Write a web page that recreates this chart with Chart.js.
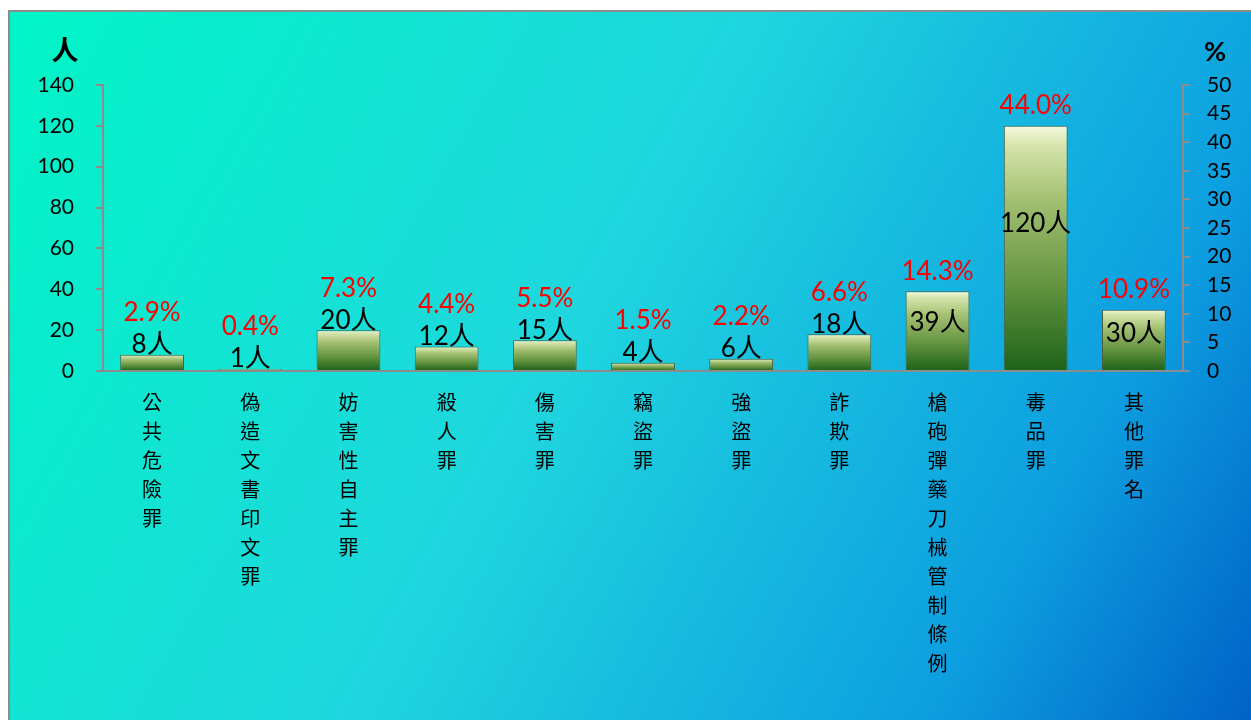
<!DOCTYPE html>
<html>
<head>
<meta charset="utf-8">
<script src="https://cdn.jsdelivr.net/npm/chart.js@4.4.1/dist/chart.umd.min.js"></script>
<style>
  html, body { margin: 0; padding: 0; background: #fff; overflow: hidden; }
  #wrap {
    position: absolute; left: 8px; top: 10px;
    width: 1243px; height: 710px;
    border-left: 2px solid #8c8c8c; border-top: 2px solid #8c8c8c;
  }
  canvas { display: block; }
</style>
</head>
<body>
<div id="wrap"><canvas id="myChart" width="1241" height="708"></canvas></div>
<script>
// data
const categories = ['公共危險罪', '偽造文書印文罪', '妨害性自主罪', '殺人罪', '傷害罪', '竊盜罪', '強盜罪', '詐欺罪', '槍砲彈藥刀械管制條例', '毒品罪', '其他罪名'];
const counts = [8, 1, 20, 12, 15, 4, 6, 18, 39, 120, 30];
const percents = [2.9, 0.4, 7.3, 4.4, 5.5, 1.5, 2.2, 6.6, 14.3, 44.0, 10.9];
const countTicks = [0, 20, 40, 60, 80, 100, 120, 140];
const percentTicks = [0, 5, 10, 15, 20, 25, 30, 35, 40, 45, 50];

const numFont = 'Lato, "Noto Sans CJK TC", sans-serif';
const cjkFont = '"Noto Sans CJK TC", sans-serif';
const axisGray = '#8c8c8c';

// background of the whole chart
const bgPlugin = {
  id: 'bg',
  beforeDraw(chart) {
    const { ctx, width, height } = chart;
    const g = ctx.createLinearGradient(0, 0, width, height);
    g.addColorStop(0, '#00f5c6');
    g.addColorStop(0.45, '#1fd6de');
    g.addColorStop(0.8, '#0d9fe0');
    g.addColorStop(1, '#0062c6');
    ctx.save();
    ctx.fillStyle = g;
    ctx.fillRect(0, 0, width, height);
    ctx.restore();
  }
};

// axis titles and data labels
const labelPlugin = {
  id: 'labels',
  afterDatasetsDraw(chart) {
    const ctx = chart.ctx;
    const meta = chart.getDatasetMeta(0);
    ctx.save();
    ctx.textAlign = 'center';
    ctx.textBaseline = 'middle';
    meta.data.forEach((bar, i) => {
      const top = bar.y;
      const h = bar.base - bar.y;
      let cy, py;
      if (h > 50) {
        cy = top + Math.min(h * 0.4, 100);
        py = top - 20;
      } else {
        cy = top - 10;
        py = top - 42;
      }
      ctx.fillStyle = '#000';
      ctx.font = '26px ' + numFont;
      ctx.fillText(counts[i] + '人', bar.x, cy);
      ctx.fillStyle = '#ff0000';
      ctx.font = '26px ' + numFont;
      ctx.fillText(percents[i].toFixed(1) + '%', bar.x, py);
    });
    ctx.fillStyle = '#000';
    ctx.font = 'bold 27px ' + cjkFont;
    ctx.fillText('人', 55, 38);
    ctx.font = 'bold 27px ' + numFont;
    ctx.fillText('%', 1205, 40);
    ctx.restore();
  }
};

function barFill(c) {
  const y = c.chart.scales.y;
  if (!y || c.raw === undefined) return '#80a858';
  const top = y.getPixelForValue(c.raw);
  const base = y.getPixelForValue(0);
  if (!isFinite(top) || !isFinite(base) || base - top < 1) return '#80a858';
  const g = c.chart.ctx.createLinearGradient(0, top, 0, base);
  g.addColorStop(0, '#f6f9e0');
  g.addColorStop(0.08, '#d6e4ac');
  g.addColorStop(0.3, '#a3c072');
  g.addColorStop(0.65, '#649440');
  g.addColorStop(1, '#1c6218');
  return g;
}

const ctx = document.getElementById('myChart').getContext('2d');

new Chart(ctx, {
  type: 'bar',
  data: {
    labels: categories.map(s => s.split('')),
    datasets: [{
      label: '人數',
      data: counts,
      backgroundColor: barFill,
      borderColor: '#4e5e40',
      borderWidth: 1,
      barPercentage: 0.65,
      categoryPercentage: 1,
      yAxisID: 'y'
    }]
  },
  options: {
    responsive: false,
    animation: false,
    layout: { padding: { top: 73, left: 0, right: 0, bottom: 0 } },
    plugins: {
      legend: { display: false },
      tooltip: { enabled: false }
    },
    scales: {
      x: {
        grid: { display: false, drawTicks: false },
        border: { display: true, color: axisGray, width: 2 },
        ticks: {
          color: '#000',
          padding: 17,
          maxRotation: 0,
          autoSkip: false,
          font: { family: cjkFont, size: 20, lineHeight: 1.45 }
        },
        afterFit(scale) { scale.height = 349; }
      },
      y: {
        position: 'left',
        min: 0,
        max: countTicks[countTicks.length - 1],
        afterBuildTicks(scale) { scale.ticks = countTicks.map(v => ({ value: v })); },
        grid: { drawOnChartArea: false, drawTicks: true, tickLength: 7, color: axisGray, lineWidth: 2 },
        border: { display: true, color: axisGray, width: 2 },
        ticks: { color: '#000', padding: 22, font: { family: numFont, size: 21 } },
        afterFit(scale) { scale.width = 93; }
      },
      y2: {
        position: 'right',
        display: true,
        min: 0,
        max: percentTicks[percentTicks.length - 1],
        afterBuildTicks(scale) { scale.ticks = percentTicks.map(v => ({ value: v })); },
        grid: { drawOnChartArea: false, drawTicks: true, tickLength: 7, color: axisGray, lineWidth: 2 },
        border: { display: true, color: axisGray, width: 2 },
        ticks: { color: '#000', padding: 17, font: { family: numFont, size: 21 } },
        afterFit(scale) { scale.width = 68; }
      }
    }
  },
  plugins: [bgPlugin, labelPlugin]
});
</script>
</body>
</html>
